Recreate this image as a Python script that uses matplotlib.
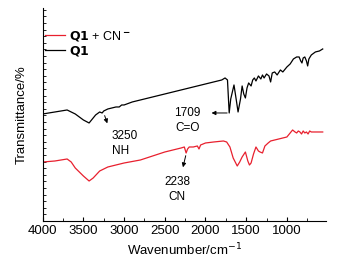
import numpy as np
import matplotlib
matplotlib.use("Agg")
import matplotlib.pyplot as plt
from matplotlib.ticker import MultipleLocator, NullFormatter

plt.rcParams['font.family'] = ['Liberation Sans', 'DejaVu Sans']

# wavenumbers (cm-1) and transmittance (arbitrary units)
wn_q1 = [4000, 3850, 3700, 3600, 3500, 3430, 3350, 3300, 3270, 3250, 3200, 3100, 3060, 3030,
         3000, 2900, 2500, 2100, 1800, 1760, 1730, 1709, 1690, 1650, 1620, 1600, 1570, 1550,
         1530, 1510, 1490, 1470, 1440, 1420, 1400, 1380, 1350, 1320, 1300, 1280, 1250, 1220,
         1200, 1180, 1150, 1120, 1080, 1050, 1000, 960, 920, 880, 850, 830, 815, 800, 780,
         760, 745, 730, 700, 650, 600, 560]
t_q1 = [107, 109, 111, 107, 101, 98, 106, 109, 108, 110, 112, 114, 114, 116,
        116, 119, 127, 135, 141, 143, 141, 108, 122, 136, 120, 109, 122, 135,
        127, 123, 133, 138, 135, 141, 143, 140, 145, 142, 146, 143, 147, 145,
        139, 148, 149, 146, 151, 149, 154, 157, 162, 164, 164, 160, 158, 163, 164,
        160, 155, 162, 166, 169, 170, 172]

wn_q1cn = [4000, 3850, 3700, 3650, 3600, 3500, 3430, 3380, 3300, 3200, 3000, 2800, 2500,
           2300, 2260, 2238, 2220, 2200, 2150, 2100, 2080, 2060, 2000, 1900, 1780, 1740,
           1700, 1660, 1610, 1580, 1550, 1510, 1480, 1460, 1440, 1410, 1380, 1350, 1330,
           1300, 1270, 1230, 1200, 1100, 1000, 960, 930, 900, 880, 860, 840, 820, 800, 780,
           760, 740, 720, 700, 650, 600, 560]
t_q1cn = [59, 60, 62, 59, 53, 45, 40, 43, 50, 54, 58, 61, 69,
          73, 74, 68, 72, 74, 74, 75, 72, 76, 78, 79, 80, 79,
          74, 63, 55, 59, 64, 69, 60, 56, 58, 67, 74, 70, 69,
          68, 75, 78, 80, 82, 84, 88, 91, 89, 88, 90, 89, 87, 90, 88,
          89, 87, 90, 89, 89, 89, 89]

fig = plt.figure(figsize=(3.48, 2.65), dpi=100)
ax = fig.add_axes([0.1227, 0.166, 0.814, 0.804])

ax.plot(wn_q1cn, t_q1cn, color='#e8202e', lw=0.9, label=r'$\bf{Q1}$ + CN$^{\bf -}$')
ax.plot(wn_q1, t_q1, color='black', lw=0.9, label=r'$\bf{Q1}$')

ax.set_xlim(4000, 520)
ax.set_ylim(0, 213)

for s in ['top', 'right']:
    ax.spines[s].set_visible(False)
for s in ['left', 'bottom']:
    ax.spines[s].set_linewidth(0.8)

ax.xaxis.set_major_locator(MultipleLocator(500))
ax.xaxis.set_minor_locator(MultipleLocator(250))
ax.yaxis.set_major_locator(MultipleLocator(6.6))
ax.yaxis.set_major_formatter(NullFormatter())
ax.tick_params(axis='x', which='major', direction='in', length=3, width=0.8, labelsize=9.5, pad=3)
ax.tick_params(axis='x', which='minor', direction='in', length=2, width=0.6)
ax.tick_params(axis='y', which='major', direction='in', length=2, width=0.6)

ax.set_xlabel('Wavenumber/cm$^{-1}$', fontsize=9.5, labelpad=3)
ax.set_ylabel('Transmittance/%', fontsize=9.5, labelpad=7)

leg = ax.legend(loc='upper left', bbox_to_anchor=(-0.01, 0.925), frameon=False, fontsize=9,
                handlelength=1.6, handletextpad=0.3, borderaxespad=0, labelspacing=0.1)

# annotations
arrow = dict(arrowstyle='-|>', color='black', lw=0.7, mutation_scale=6)
ax.annotate('', xy=(3195, 95), xytext=(3250, 108), arrowprops=arrow)
ax.text(3150, 91, '3250\nNH', fontsize=8.5, va='top', ha='left', linespacing=1.3)

ax.annotate('', xy=(1960, 108), xytext=(1700, 108), arrowprops=arrow)
ax.text(2220, 114, '1709\nC=O', fontsize=8.5, va='top', ha='center', linespacing=1.3)

ax.annotate('', xy=(2285, 51), xytext=(2235, 68), arrowprops=arrow)
ax.text(2350, 45, '2238\nCN', fontsize=8.5, va='top', ha='center', linespacing=1.3)

fig.savefig('out.png', dpi=100)
